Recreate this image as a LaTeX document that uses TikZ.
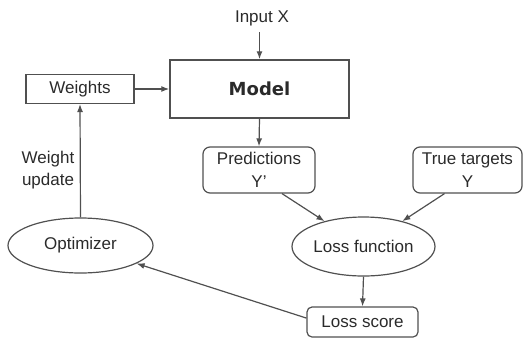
\documentclass[tikz,border=0pt]{standalone}
\usepackage{fontspec}
\setmainfont{Liberation Sans}
\newfontfamily\modelfont{DejaVu Sans}
\usetikzlibrary{arrows.meta,shapes.geometric}
\definecolor{lineC}{HTML}{505050}
\definecolor{textC}{HTML}{2A2A2A}
\tikzset{
  box/.style={draw=lineC, line width=1.2pt, text=textC, inner sep=0pt, align=center},
  rbox/.style={box, rounded corners=7pt},
  oval/.style={draw=lineC, line width=1.2pt, text=textC, ellipse, inner sep=0pt, align=center},
  lbl/.style={text=textC, inner sep=0pt, align=center},
  arr/.style={draw=lineC, line width=1.2pt, -{Latex[length=8pt,width=6pt]}},
}
\begin{document}
\begin{tikzpicture}[x=1pt,y=-1pt, font=\fontsize{17}{22.5}\selectfont]
\useasboundingbox (0,0) rectangle (530,338);
\node[lbl] (input) at (262,18) {Input X};
\node[box, line width=1.5pt, minimum width=179pt, minimum height=58pt] (model) at (259.5,89) {\fontsize{18}{22}\selectfont\modelfont\bfseries Model};
\node[box, minimum width=108pt, minimum height=29pt] (weights) at (80,89) {Weights};
\node[rbox, minimum width=112pt, minimum height=46pt] (pred) at (259,170) {Predictions\\Y\char39\relax};
\node[rbox, minimum width=109pt, minimum height=46pt] (true) at (467.5,170) {True targets\\Y};
\node[oval, minimum width=145pt, minimum height=55pt] (opt) at (80.5,245.5) {Optimizer};
\node[oval, minimum width=143pt, minimum height=59pt] (loss) at (363.5,246.5) {Loss function};
\node[rbox, rounded corners=5pt, minimum width=111pt, minimum height=30pt] (score) at (362.5,322) {Loss score};
\node[lbl] (wu) at (48,170) {Weight\\update};
\coordinate (inbot) at (259.5,32);
\draw[arr] (inbot) -- (model.north);
\draw[arr] (model.south) -- (pred.north);
\draw[arr] (weights.east) -- (model.west);
\draw[arr] (opt.north) -- (weights.south);
\draw[arr] ([xshift=23pt]pred.south) -- (loss);
\draw[arr] ([xshift=-23pt]true.south) -- (loss);
\draw[arr] (loss.south) -- (score.north);
\draw[arr] (score.176) -- (opt);
\end{tikzpicture}
\end{document}
